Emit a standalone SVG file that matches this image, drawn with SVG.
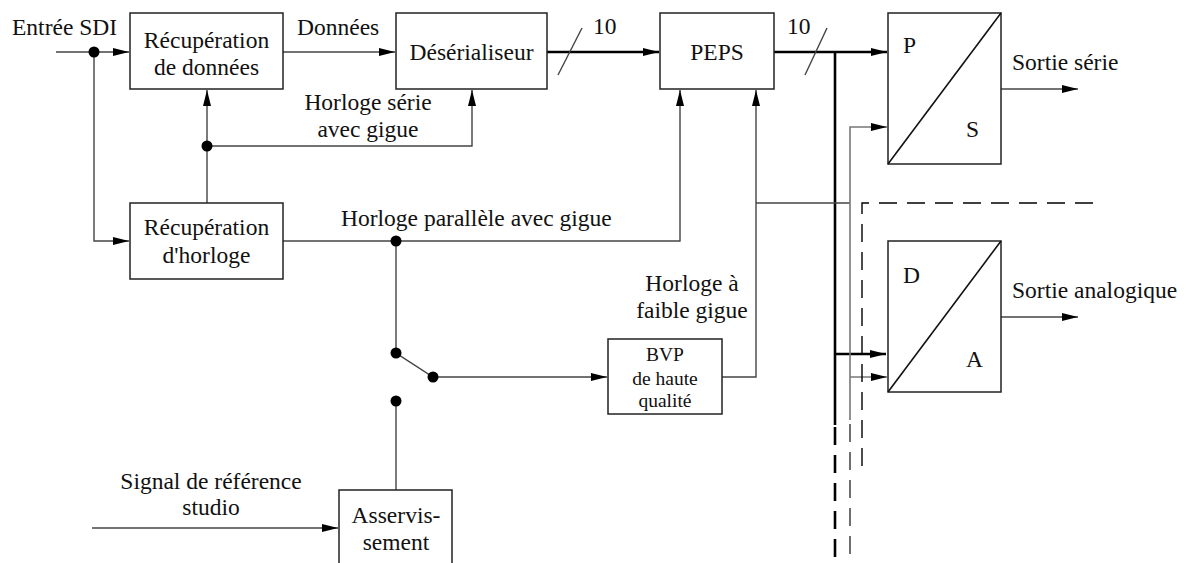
<svg xmlns="http://www.w3.org/2000/svg" width="1187" height="563" viewBox="0 0 1187 563">
<style>
.box{fill:#fff;stroke:#222;stroke-width:1.5}
.diag{stroke:#111;stroke-width:1.6;fill:none}
.ln{fill:none;stroke:#444;stroke-width:1.4}
.bus{fill:none;stroke:#000;stroke-width:2.6}
.gray{fill:none;stroke:#777;stroke-width:1.6}
.dash{fill:none;stroke:#000;stroke-width:1.4;stroke-dasharray:18 10}
text{font-family:'Liberation Serif','Times New Roman',serif;fill:#111}
.t{font-size:23.5px}
.s{font-size:19.5px}
.m{text-anchor:middle}
.dot{fill:#000}
</style>
<defs>
<marker id="ah" markerUnits="userSpaceOnUse" markerWidth="18" markerHeight="10" refX="16" refY="4" orient="auto">
<path d="M0,0 L16,4 L0,8 z" fill="#000"/>
</marker>
</defs>
<rect width="1187" height="563" fill="#fff"/>
<g id="connectors">
<path class="ln" d="M56,52 H129" marker-end="url(#ah)"/>
<path class="ln" d="M94,52 V241 H129" marker-end="url(#ah)"/>
<path class="ln" d="M283,52 H395" marker-end="url(#ah)"/>
<path class="bus" d="M547,52 H659" marker-end="url(#ah)"/>
<path class="ln" d="M558,75 L582,28"/>
<path class="bus" d="M774,52 H887" marker-end="url(#ah)"/>
<path class="ln" d="M805,75 L827,28"/>
<path class="bus" d="M835,52 V425"/>
<path class="dash" d="M835,427 V563" style="stroke-width:2.6"/>
<path class="bus" d="M835,354 H886" marker-end="url(#ah)"/>
<path class="ln" d="M207,203 V90" marker-end="url(#ah)"/>
<path class="ln" d="M207,146 H472 V90" marker-end="url(#ah)"/>
<path class="ln" d="M283,241 H680 V90" marker-end="url(#ah)"/>
<path class="ln" d="M396,241 V353 L433,377 H607" marker-end="url(#ah)"/>
<path class="ln" d="M396,401 V490"/>
<path class="ln" d="M92,528 H338" marker-end="url(#ah)"/>
<path class="ln" d="M722,377 H756 V90" marker-end="url(#ah)"/>
<path class="ln" d="M756,203 H850"/>
<path class="gray" d="M850,420 V127 H887" marker-end="url(#ah)"/>
<path class="gray" d="M850,377 H887" marker-end="url(#ah)"/>
<path class="dash" d="M850,424 V563" style="stroke:#333"/>
<path class="dash" d="M1093,203 H862 V468"/>
<path class="ln" d="M1001,89 H1078" marker-end="url(#ah)"/>
<path class="ln" d="M1001,317 H1078" marker-end="url(#ah)"/>
<circle class="dot" cx="94" cy="52" r="5.5"/>
<circle class="dot" cx="207" cy="146" r="5.5"/>
<circle class="dot" cx="396" cy="241" r="5.5"/>
<circle class="dot" cx="396" cy="353" r="5.5"/>
<circle class="dot" cx="433" cy="377" r="5.5"/>
<circle class="dot" cx="396" cy="401" r="5.5"/>
</g>
<g id="labels">
<text class="t" x="12" y="35">Entrée SDI</text>
<text class="t" x="297" y="35">Données</text>
<text class="t" x="593" y="34">10</text>
<text class="t" x="787" y="34">10</text>
<text class="t m" x="368" y="110">Horloge série</text>
<text class="t m" x="368" y="137">avec gigue</text>
<text class="t" x="341" y="226">Horloge parallèle avec gigue</text>
<text class="t m" x="692" y="291">Horloge à</text>
<text class="t m" x="692" y="318">faible gigue</text>
<text class="t" x="1012" y="70">Sortie série</text>
<text class="t" x="1012" y="298">Sortie analogique</text>
<text class="t m" x="211" y="489">Signal de référence</text>
<text class="t m" x="211" y="515">studio</text>
</g>
<g id="recup-donnees">
<rect class="box" x="130" y="13" width="153" height="76"/>
<text class="t m" x="206.5" y="48">Récupération</text>
<text class="t m" x="206.5" y="75">de données</text>
</g>
<g id="deserialiseur">
<rect class="box" x="396" y="13" width="151" height="76"/>
<text class="t m" x="471.5" y="60">Désérialiseur</text>
</g>
<g id="peps">
<rect class="box" x="660" y="13" width="114" height="76"/>
<text class="t m" x="717" y="60">PEPS</text>
</g>
<g id="ps">
<rect class="box" x="888" y="13" width="113" height="151"/>
<path class="diag" d="M888,164 L1001,13"/>
<text class="t" x="903" y="53">P</text>
<text class="t" x="966" y="137">S</text>
</g>
<g id="recup-horloge">
<rect class="box" x="130" y="203" width="153" height="76"/>
<text class="t m" x="206.5" y="235">Récupération</text>
<text class="t m" x="206.5" y="263">d'horloge</text>
</g>
<g id="da">
<rect class="box" x="888" y="241" width="113" height="151"/>
<path class="diag" d="M888,392 L1001,241"/>
<text class="t" x="903" y="283">D</text>
<text class="t" x="966" y="367">A</text>
</g>
<g id="bvp">
<rect class="box" x="608" y="339" width="114" height="75"/>
<text class="s m" x="665" y="361">BVP</text>
<text class="s m" x="665" y="385">de haute</text>
<text class="s m" x="665" y="407">qualité</text>
</g>
<g id="asservissement">
<rect class="box" x="339" y="490" width="113" height="90"/>
<text class="t m" x="396" y="523">Asservis-</text>
<text class="t m" x="396" y="550">sement</text>
</g>
</svg>
